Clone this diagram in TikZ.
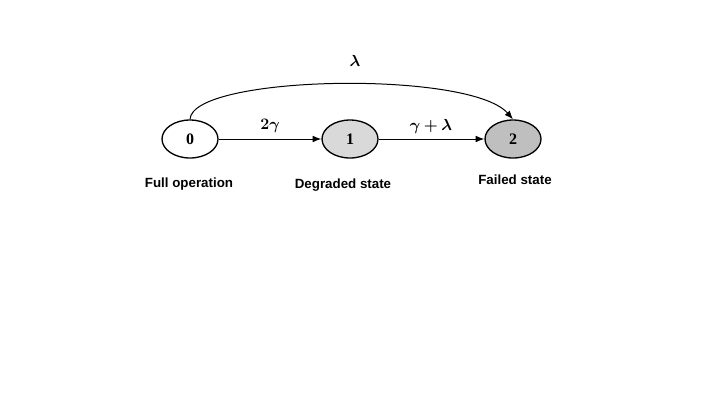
\documentclass[tikz,border=0pt]{standalone}
\usepackage{amsmath}
\usepackage{amssymb}
\usepackage{bm}
\usepackage{fontspec}
\setmainfont{Liberation Serif}
\setsansfont{Liberation Sans}
\usepackage{tikz}
\usetikzlibrary{arrows.meta,shapes.geometric}

\definecolor{degradedgray}{rgb}{0.85,0.85,0.85}
\definecolor{failedgray}{rgb}{0.75,0.75,0.75}

\tikzset{
  statenode/.style={draw, ellipse, line width=1pt, minimum width=56pt*0.75, minimum height=38pt*0.75, inner sep=0pt, font=\fontsize{12}{14}\selectfont\bfseries},
  statelabel/.style={inner sep=0.75pt, font=\fontsize{10}{12}\selectfont\sffamily\bfseries},
  ratelabel/.style={inner sep=0.75pt, font=\fontsize{12}{14}\selectfont},
  transition/.style={line width=0.75pt, -{Latex[length=6.5pt,width=5pt]}}
}

\begin{document}
\begin{tikzpicture}[x=0.75pt,y=0.75pt,yscale=-1,xscale=1]
\path[use as bounding box] (0,0) rectangle (720,405);

% States
\node [statenode] (full) at (190,139) {0};
\node [statenode, fill=degradedgray] (degraded) at (350,139) {1};
\node [statenode, fill=failedgray] (failed) at (513,139) {2};

% State names
\node [statelabel] (fulltxt) at (189,184) {Full operation};
\node [statelabel] (degradedtxt) at (343,185) {Degraded state};
\node [statelabel] (failedtxt) at (515,180) {Failed state};

% Transitions
\draw [transition] (full) -- (degraded);
\draw [transition] (degraded) -- (failed);
\draw [transition] (full.north) .. controls (192,75) and (470,70) .. (failed.north);

% Rates
\node [ratelabel] (rate01) at (270,126) {$\bm{2\gamma}$};
\node [ratelabel] (rate12) at (431,126) {$\bm{\gamma+\lambda}$};
\node [ratelabel] (rate02) at (355,61) {$\bm{\lambda}$};

\end{tikzpicture}
\end{document}
